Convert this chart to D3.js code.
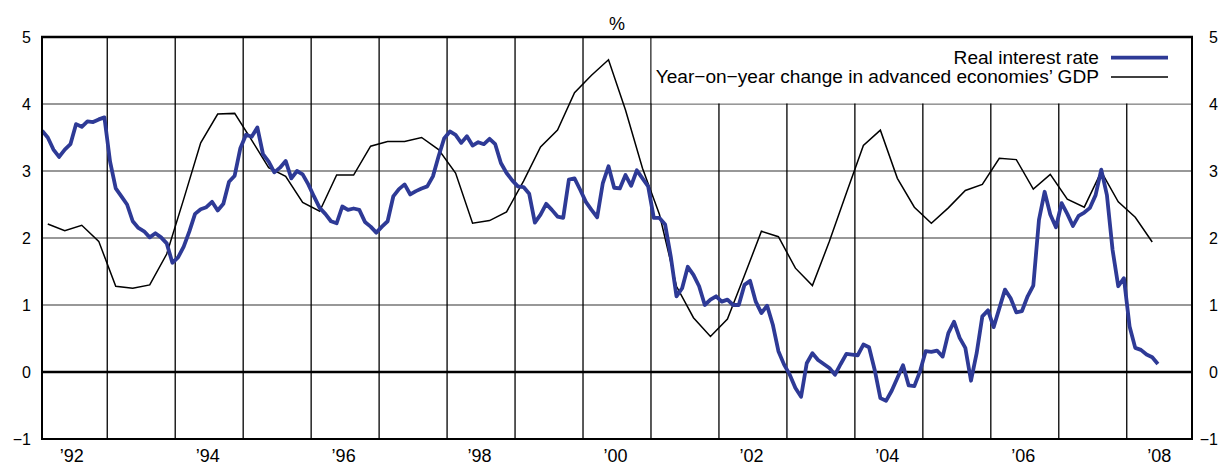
<!DOCTYPE html>
<html>
<head>
<meta charset="utf-8">
<script src="https://cdn.jsdelivr.net/npm/d3@7"></script>
<style>
  html, body { margin: 0; padding: 0; background: #fff; }
  svg { display: block; font-family: "Liberation Sans", Arial, Helvetica, sans-serif; }
</style>
</head>
<body>
<svg id="chart" width="1219" height="466"></svg>
<script>
// ---------------- DATA ----------------
const startYear = 1992;

// Real interest rate, monthly, Jan 1992 – Jun 2008 (%)
const realRate = [
  3.60, 3.50, 3.32, 3.21, 3.32, 3.40, 3.70, 3.66, 3.74, 3.73, 3.77, 3.80, // 1992
  3.14, 2.74, 2.62, 2.50, 2.25, 2.15, 2.10, 2.01, 2.07, 2.01, 1.92, 1.63, // 1993
  1.71, 1.87, 2.10, 2.36, 2.43, 2.46, 2.54, 2.41, 2.51, 2.84, 2.93, 3.34, // 1994
  3.54, 3.51, 3.65, 3.25, 3.14, 2.98, 3.05, 3.15, 2.89, 3.00, 2.95, 2.80, // 1995
  2.62, 2.45, 2.36, 2.25, 2.22, 2.47, 2.42, 2.44, 2.42, 2.24, 2.17, 2.08, // 1996
  2.17, 2.25, 2.62, 2.73, 2.80, 2.65, 2.70, 2.74, 2.77, 2.92, 3.22, 3.49, // 1997
  3.59, 3.54, 3.42, 3.52, 3.38, 3.43, 3.40, 3.48, 3.40, 3.12, 2.97, 2.86, // 1998
  2.77, 2.76, 2.66, 2.23, 2.35, 2.51, 2.42, 2.32, 2.30, 2.87, 2.89, 2.72, // 1999
  2.54, 2.42, 2.31, 2.82, 3.07, 2.75, 2.74, 2.94, 2.78, 3.01, 2.89, 2.77, // 2000
  2.30, 2.30, 2.20, 1.72, 1.13, 1.25, 1.57, 1.45, 1.28, 1.00, 1.08, 1.13, // 2001
  1.05, 1.08, 1.00, 1.00, 1.30, 1.36, 1.05, 0.88, 0.99, 0.71, 0.31, 0.11, // 2002
  -0.04, -0.24, -0.37, 0.13, 0.28, 0.18, 0.12, 0.06, -0.04, 0.12, 0.27, 0.26, // 2003
  0.25, 0.41, 0.37, 0.03, -0.39, -0.43, -0.28, -0.09, 0.10, -0.20, -0.21, 0.01, // 2004
  0.31, 0.30, 0.32, 0.23, 0.58, 0.75, 0.51, 0.36, -0.13, 0.28, 0.83, 0.92, // 2005
  0.67, 0.95, 1.23, 1.10, 0.89, 0.91, 1.13, 1.29, 2.27, 2.69, 2.35, 2.16, // 2006
  2.52, 2.36, 2.18, 2.33, 2.38, 2.45, 2.64, 3.02, 2.64, 1.82, 1.28, 1.40, // 2007
  0.68, 0.36, 0.33, 0.26, 0.22, 0.12                                      // 2008
];

// Year-on-year change in advanced economies' GDP, quarterly, 1992Q1 – 2008Q2 (%)
const gdpGrowth = [
  2.21, 2.11, 2.19, 1.95, // 1992
  1.28, 1.25, 1.30, 1.76, // 1993
  2.58, 3.42, 3.85, 3.86, // 1994
  3.46, 3.05, 2.92, 2.53, // 1995
  2.40, 2.94, 2.94, 3.37, // 1996
  3.44, 3.44, 3.50, 3.32, // 1997
  2.97, 2.22, 2.26, 2.39, // 1998
  2.85, 3.36, 3.61, 4.17, // 1999
  4.43, 4.66, 3.91, 3.04, // 2000
  2.35, 1.28, 0.81, 0.53, // 2001
  0.79, 1.44, 2.10, 2.02, // 2002
  1.55, 1.29, 1.95, 2.67, // 2003
  3.38, 3.61, 2.89, 2.46, // 2004
  2.22, 2.45, 2.71, 2.80, // 2005
  3.19, 3.17, 2.73, 2.95, // 2006
  2.58, 2.46, 2.99, 2.54, // 2007
  2.31, 1.94              // 2008
];

const yTicks = [-1, 0, 1, 2, 3, 4, 5];
const labelYears = [1992, 1994, 1996, 1998, 2000, 2002, 2004, 2006, 2008];
const labelTexts = ["’92", "’94", "’96", "’98", "’00", "’02", "’04", "’06", "’08"];
const gridYears = [1993, 1994, 1995, 1996, 1997, 1998, 1999, 2000, 2001, 2002, 2003, 2004, 2005, 2006, 2007, 2008];
const seriesNames = ["Real interest rate", "Year−on−year change in advanced economies’ GDP"];
const unitLabel = "%";

// ---------------- LAYOUT ----------------
const mLeft = 42, mRight = 1192, mTop = 37, mBottom = 439;
const blue = "#2e3a96";
const fontFam = "'Liberation Sans', Arial, Helvetica, sans-serif";

const svg = d3.select("#chart");

const x = d3.scaleLinear().domain([1992.04, 2008.96]).range([mLeft, mRight]);
const y = d3.scaleLinear().domain([-1, 5]).range([mBottom, mTop]);

const rateData = realRate.map((v, i) => ({ t: startYear + (i + 0.5) / 12, v }));
const gdpData = gdpGrowth.map((v, i) => ({ t: startYear + (i + 0.5) / 4, v }));

// legend box spans from start of 2001 to the right edge, above the 4% line
const legendYearStart = 2001, legendValueBottom = 4;

// horizontal gridlines
svg.append("g").selectAll("line")
  .data(yTicks.filter(d => d > -1 && d < 5 && d !== 0))
  .join("line")
  .attr("x1", mLeft).attr("x2", mRight)
  .attr("y1", d => y(d)).attr("y2", d => y(d))
  .attr("stroke", "#333").attr("stroke-width", 1.2);

// vertical gridlines (year boundaries)
svg.append("g").selectAll("line")
  .data(gridYears)
  .join("line")
  .attr("x1", d => x(d)).attr("x2", d => x(d))
  .attr("y1", mTop).attr("y2", mBottom)
  .attr("stroke", "#000").attr("stroke-width", 1.3);

// legend background box
svg.append("rect")
  .attr("x", x(legendYearStart) + 0.7)
  .attr("y", mTop)
  .attr("width", mRight - x(legendYearStart) - 0.7)
  .attr("height", y(legendValueBottom) - mTop - 0.6)
  .attr("fill", "#fff");

// zero line
svg.append("line")
  .attr("x1", mLeft).attr("x2", mRight)
  .attr("y1", y(0)).attr("y2", y(0))
  .attr("stroke", "#000").attr("stroke-width", 2.4);

// GDP line
const line = d3.line().x(d => x(d.t)).y(d => y(d.v));
svg.append("path")
  .datum(gdpData)
  .attr("d", line)
  .attr("fill", "none")
  .attr("stroke", "#000")
  .attr("stroke-width", 1.5)
  .attr("stroke-linejoin", "miter");

// Real interest rate line
svg.append("path")
  .datum(rateData)
  .attr("d", line)
  .attr("fill", "none")
  .attr("stroke", blue)
  .attr("stroke-width", 3.8)
  .attr("stroke-linejoin", "round");

// frame
svg.append("rect")
  .attr("x", mLeft).attr("y", mTop)
  .attr("width", mRight - mLeft).attr("height", mBottom - mTop)
  .attr("fill", "none").attr("stroke", "#000").attr("stroke-width", 2);
svg.append("line")
  .attr("x1", mLeft - 1).attr("x2", mRight + 1)
  .attr("y1", mTop).attr("y2", mTop)
  .attr("stroke", "#000").attr("stroke-width", 2.6);

// axes
const fmt = d3.format("d");
const leftAxis = svg.append("g")
  .attr("transform", `translate(${mLeft},0)`)
  .call(d3.axisLeft(y).tickValues(yTicks).tickSize(0).tickPadding(11).tickFormat(fmt));
const rightAxis = svg.append("g")
  .attr("transform", `translate(${mRight},0)`)
  .call(d3.axisRight(y).tickValues(yTicks).tickSize(0).tickPadding(26).tickFormat(fmt));
[leftAxis, rightAxis].forEach(g => {
  g.select(".domain").remove();
  g.attr("font-family", fontFam).attr("font-size", 16);
  g.selectAll("text").attr("fill", "#000");
});
// right-hand labels are right-aligned just inside the picture edge
rightAxis.selectAll("text").attr("text-anchor", "end");

const bottomAxis = svg.append("g")
  .attr("transform", `translate(0,${mBottom})`)
  .call(d3.axisBottom(x)
    .tickValues(labelYears.map(d => d + 0.5))
    .tickSize(0).tickPadding(10)
    .tickFormat((d, i) => labelTexts[i]));
bottomAxis.select(".domain").remove();
bottomAxis.attr("font-family", fontFam).attr("font-size", 18);
bottomAxis.selectAll("text").attr("fill", "#000").attr("dx", -2);

// unit label
svg.append("text")
  .attr("x", (mLeft + mRight) / 2).attr("y", 30)
  .attr("text-anchor", "middle")
  .attr("font-family", fontFam).attr("font-size", 18)
  .text(unitLabel);

// legend
const legRight = 1168, legLen = 57, legGap = 12;
const legRows = [
  { name: seriesNames[0], color: blue, w: 3.8, ly: 57.7, ty: 64.3 },
  { name: seriesNames[1], color: "#000", w: 1.5, ly: 77, ty: 83.3 }
];
const leg = svg.append("g");
legRows.forEach(r => {
  leg.append("line")
    .attr("x1", legRight - legLen).attr("x2", legRight)
    .attr("y1", r.ly).attr("y2", r.ly)
    .attr("stroke", r.color).attr("stroke-width", r.w);
  leg.append("text")
    .attr("x", legRight - legLen - legGap).attr("y", r.ty)
    .attr("text-anchor", "end")
    .attr("font-family", fontFam).attr("font-size", 19.1)
    .attr("fill", "#000")
    .text(r.name);
});
</script>
</body>
</html>
